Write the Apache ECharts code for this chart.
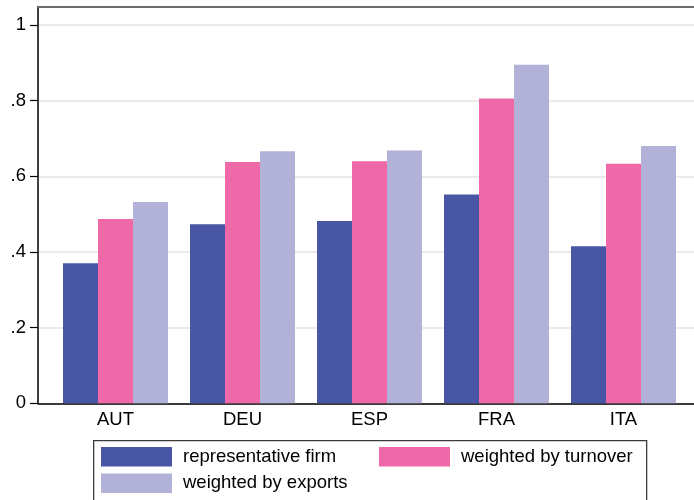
<!DOCTYPE html>
<html>
<head>
<meta charset="utf-8">
<script src="https://cdn.jsdelivr.net/npm/echarts@6/dist/echarts.min.js"></script>
<style>html,body{margin:0;padding:0;background:#fff;}#c{width:694px;height:500px;}</style>
</head>
<body>
<div id="c"></div>
<script>
var categories = ['AUT', 'DEU', 'ESP', 'FRA', 'ITA'];
var seriesNames = ['representative firm', 'weighted by turnover', 'weighted by exports'];
var representativeFirm = [0.370, 0.473, 0.482, 0.552, 0.415];
var weightedByTurnover = [0.487, 0.638, 0.640, 0.806, 0.633];
var weightedByExports = [0.532, 0.666, 0.668, 0.895, 0.680];
var yTickLabels = {0: '0', 0.2: '.2', 0.4: '.4', 0.6: '.6', 0.8: '.8', 1: '1'};

var colors = ['#4856a5', '#ef69a8', '#b2b1d8'];
var font = 'Liberation Sans, Arial, sans-serif';
var chart = echarts.init(document.getElementById('c'), null, {renderer: 'canvas'});

var barBase = {type: 'bar', xAxisIndex: 0, yAxisIndex: 0, barWidth: 35, barGap: '0%'};

chart.setOption({
  animation: false,
  backgroundColor: '#fff',
  textStyle: {fontFamily: font},
  grid: [
    {left: 52, width: 635, top: 25, height: 378.3, containLabel: false},
    {left: 38, right: 0, top: 25, height: 378.3, containLabel: false},
    {left: 38, right: 0, top: 6.5, bottom: 96.7, containLabel: false}
  ],
  xAxis: [
    {gridIndex: 0, type: 'category', data: categories,
     axisLine: {show: false}, axisTick: {show: false},
     axisLabel: {color: '#000', fontSize: 18.5, fontFamily: font, margin: 7}},
    {gridIndex: 1, type: 'value', min: 0, max: 1, show: true,
     axisLine: {show: true, onZero: false, lineStyle: {color: '#000', width: 1.5}},
     axisTick: {show: false}, axisLabel: {show: false}, splitLine: {show: false}},
    {gridIndex: 2, type: 'value', position: 'top', min: 0, max: 1,
     axisLine: {show: true, onZero: false, lineStyle: {color: '#6e6e6e', width: 2.2}},
     axisTick: {show: false}, axisLabel: {show: false}, splitLine: {show: false}}
  ],
  yAxis: [
    {gridIndex: 0, type: 'value', min: 0, max: 1, show: false},
    {gridIndex: 1, type: 'value', min: 0, max: 1, interval: 0.2,
     axisLine: {show: false},
     axisTick: {show: true, length: 8, lineStyle: {color: '#000', width: 1.2}},
     axisLabel: {color: '#000', fontSize: 18.5, fontFamily: font, margin: 12,
       formatter: function (v) { var k = Math.round(v * 10) / 10; return yTickLabels[k] !== undefined ? yTickLabels[k] : ''; }},
     splitLine: {show: true, lineStyle: {color: '#e3e3e3', width: 1.5}}},
    {gridIndex: 2, type: 'value', min: 0, max: 1,
     axisLine: {show: true, onZero: false, lineStyle: {color: '#000', width: 1.5}},
     axisTick: {show: false}, axisLabel: {show: false}, splitLine: {show: false}}
  ],
  legend: [
    {data: [seriesNames[0], seriesNames[2]], orient: 'vertical', left: 101, top: 447,
     itemWidth: 71, itemHeight: 19.5, itemGap: 7, padding: 0, icon: 'rect',
     textStyle: {color: '#000', fontSize: 18.5, fontFamily: font, padding: [0, 0, 0, 6]}},
    {data: [seriesNames[1]], orient: 'vertical', left: 379, top: 447,
     itemWidth: 71, itemHeight: 19.5, itemGap: 7, padding: 0, icon: 'rect',
     textStyle: {color: '#000', fontSize: 18.5, fontFamily: font, padding: [0, 0, 0, 6]}}
  ],
  graphic: [
    {type: 'rect', left: 93, top: 440, z: -1, silent: true,
     shape: {width: 553, height: 62},
     style: {fill: '#fff', stroke: '#3a3a3a', lineWidth: 1.3}}
  ],
  series: [
    Object.assign({}, barBase, {name: seriesNames[0], data: representativeFirm, itemStyle: {color: colors[0]}}),
    Object.assign({}, barBase, {name: seriesNames[1], data: weightedByTurnover, itemStyle: {color: colors[1]}}),
    Object.assign({}, barBase, {name: seriesNames[2], data: weightedByExports, itemStyle: {color: colors[2]}})
  ]
});
</script>
</body>
</html>
